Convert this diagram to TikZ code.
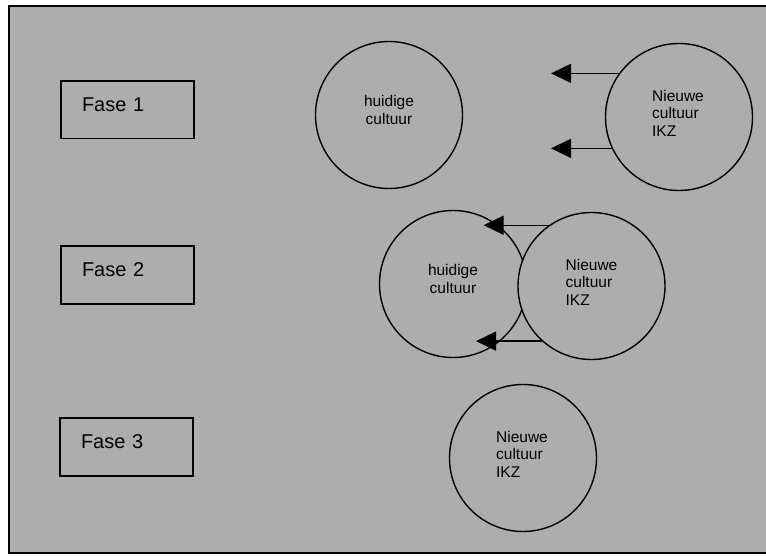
\documentclass[tikz,border=0pt]{standalone}
\usepackage{fontspec}
\setmainfont{Liberation Sans}
\usetikzlibrary{arrows.meta}
\definecolor{paper}{gray}{0.68}
\begin{document}
\begin{tikzpicture}[x=1pt,y=-1pt,
  phase/.style={draw=black, line width=1.8pt, fill=paper, inner xsep=21pt, inner ysep=0pt,
    minimum width=133pt, minimum height=57.5pt, text width=91pt, align=left,
    text height=14.3pt, text depth=10.4pt, font=\fontsize{20}{24}\selectfont},
  culture/.style={circle, draw=black, line width=1.4pt, fill=paper, inner sep=0pt, minimum size=147pt},
  oldtext/.style={align=center, inner sep=0pt, yshift=5pt, font=\fontsize{15.5}{18.3}\selectfont},
  newtext/.style={align=left, inner sep=0pt, yshift=4pt, font=\fontsize{15.5}{17.5}\selectfont},
  push/.style={line width=1.4pt, -{Triangle[length=20pt, width=19pt]}}]
  \useasboundingbox (0,0) rectangle (766,557);
  % sheet
  \draw[line width=1.4pt, fill=paper] (9,6) rectangle (790,553);

  % phase labels
  \node[phase] (f1) at (127.5,109.75) {Fase 1};
  \node[phase] (f2) at (127.5,275) {Fase 2};
  \node[phase] (f3) at (126.5,447) {Fase 3};

  % phase 1: two separate cultures
  \node[culture] (h1) at (389,115) {};
  \node[culture] (n1) at (679,117) {};
  \node[oldtext] (h1t) at (h1.center) {huidige\\cultuur};
  \node[newtext] (n1t) at ([xshift=-1pt]n1.center) {Nieuwe\\cultuur\\IKZ};
  \coordinate (t1) at (551,0);
  \draw[push] (n1.144) -- (n1.144 -| t1);
  \draw[push] (n1.205.6) -- (n1.205.6 -| t1);

  % phase 2: overlapping cultures
  \node[culture] (h2) at (453,284) {};
  \node[culture] (n2) at (591.5,286) {};
  \node[oldtext] (h2t) at (h2.center) {huidige\\cultuur};
  \node[newtext] (n2t) at (n2.center) {Nieuwe\\cultuur\\IKZ};
  \coordinate (t2) at (483.6,0);
  \coordinate (t3) at (476,0);
  \draw[push] (n2.125.5) -- (n2.125.5 -| t2);
  \draw[push] (n2.228.8) -- (n2.228.8 -| t3);

  % phase 3: new culture only
  \node[culture] (n3) at (523,458) {};
  \node[newtext] (n3t) at ([xshift=-1pt]n3.center) {Nieuwe\\cultuur\\IKZ};
\end{tikzpicture}
\end{document}
